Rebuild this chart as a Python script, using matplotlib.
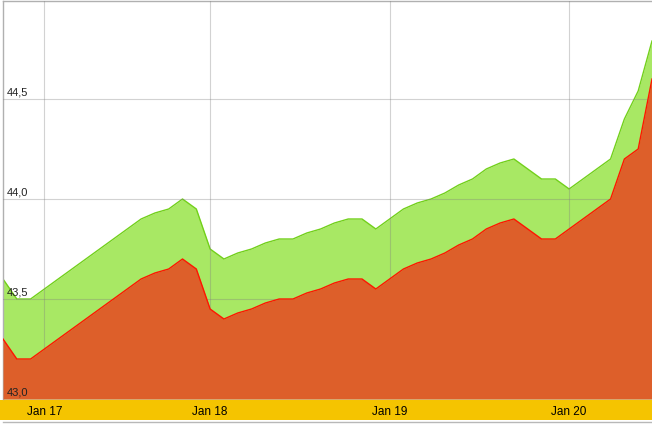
import matplotlib
matplotlib.use("Agg")
import matplotlib.pyplot as plt
from matplotlib.patches import Rectangle
from matplotlib.lines import Line2D
import matplotlib.transforms as mtransforms

matplotlib.rcParams['font.family'] = ['Liberation Sans', 'DejaVu Sans']

# sample index along the time axis (gaps are periods without quotes)
idx = [0, 1, 2, 10, 11, 12, 13, 14, 15, 16, 17, 18, 19, 20, 21, 22, 23, 24,
       25, 26, 27, 28, 29, 30, 31, 32, 33, 34, 35, 36, 37, 39, 40, 41, 44,
       45, 46, 47]
high = [43.60, 43.50, 43.50, 43.90, 43.93, 43.95, 44.00, 43.95, 43.75, 43.70,
        43.73, 43.75, 43.78, 43.80, 43.80, 43.83, 43.85, 43.88, 43.90, 43.90,
        43.85, 43.90, 43.95, 43.98, 44.00, 44.03, 44.07, 44.10, 44.15, 44.18,
        44.20, 44.10, 44.10, 44.05, 44.20, 44.40, 44.54, 44.79]
low = [43.30, 43.20, 43.20, 43.60, 43.63, 43.65, 43.70, 43.65, 43.45, 43.40,
       43.43, 43.45, 43.48, 43.50, 43.50, 43.53, 43.55, 43.58, 43.60, 43.60,
       43.55, 43.60, 43.65, 43.68, 43.70, 43.73, 43.77, 43.80, 43.85, 43.88,
       43.90, 43.80, 43.80, 43.85, 44.00, 44.20, 44.25, 44.60]

day_idx = [3, 15, 28, 41]
day_labels = ['Jan 17', 'Jan 18', 'Jan 19', 'Jan 20']
y_ticks = [43.0, 43.5, 44.0, 44.5]
y_labels = ['43,0', '43,5', '44,0', '44,5']

W, H = 652, 427
fig = plt.figure(figsize=(W / 100, H / 100), dpi=100)
ax = fig.add_axes([3 / W, (H - 400) / H, 649 / W, 398 / H])

# yellow date band and bottom rule
fig.patches.append(Rectangle((0, (H - 421) / H), 1, 20 / H, transform=fig.transFigure,
                             facecolor='#F5C400', edgecolor='none', zorder=-1))
fig.lines.append(Line2D([3 / W, 1], [(H - 423) / H] * 2, transform=fig.transFigure,
                        color='#B8B8B8', lw=1, zorder=-1))

base = 43.0
ax.fill_between(idx, base, high, color='#A8E864', lw=0, zorder=1)
ax.plot(idx, high, color='#72D01A', lw=1, zorder=2)
ax.fill_between(idx, base, low, color='#DD5F2A', lw=0, zorder=3)
ax.plot(idx, low, color='#FF1500', lw=1, zorder=4)

ax.set_xlim(0, 47)
ax.set_ylim(43.0, 44.99)

ax.set_yticks(y_ticks)
ax.set_yticklabels([])
ax.tick_params(axis='y', length=0)
ax.set_xticks(day_idx)
ax.set_xticklabels(day_labels, fontsize=8.5)
ax.tick_params(axis='x', length=0, pad=4)
ax.grid(True, color='#808080', alpha=0.35, lw=0.8, zorder=5)
ax.set_axisbelow(False)

trans = mtransforms.blended_transform_factory(ax.transAxes, ax.transData)
for v, lab in zip(y_ticks, y_labels):
    ax.annotate(lab, xy=(0, v), xycoords=trans, xytext=(3, 2), textcoords='offset points',
                fontsize=8, va='bottom', ha='left', color='#222222', zorder=6)

for side in ['right', 'bottom']:
    ax.spines[side].set_visible(False)
for side in ['left', 'top']:
    ax.spines[side].set_color('#B0B0B0')
    ax.spines[side].set_linewidth(1)

fig.savefig('out.png', dpi=100)
